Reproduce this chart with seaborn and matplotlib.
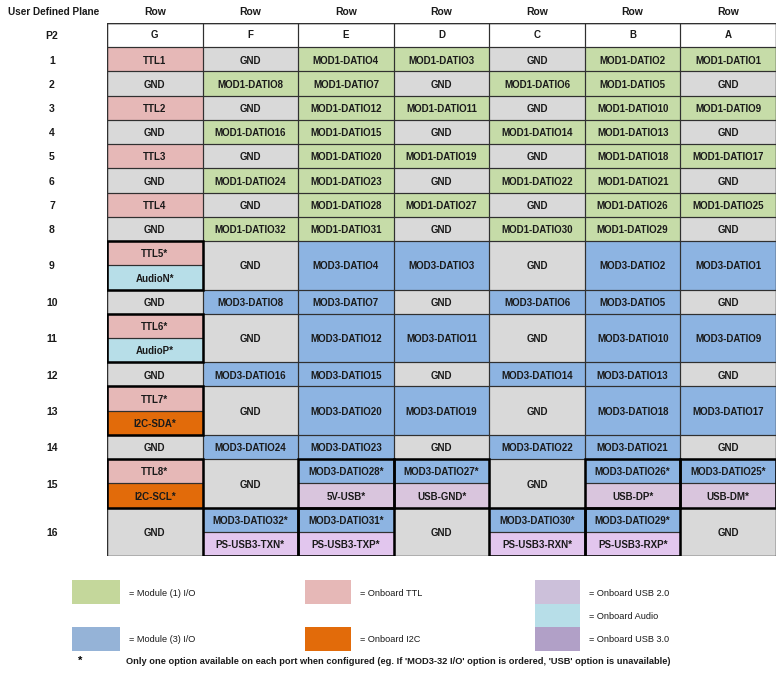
import numpy as np
import pandas as pd
import seaborn as sns
import matplotlib
matplotlib.use("Agg")
import matplotlib.pyplot as plt
from matplotlib.colors import ListedColormap
from matplotlib.patches import Rectangle

# Columns of the connector and P2 pin rows
columns = ["G", "F", "E", "D", "C", "B", "A"]
pins = [str(i) for i in range(1, 17)]
# how many text lines high each pin row is (2 = split / tall row)
row_spans = [1, 1, 1, 1, 1, 1, 1, 1, 2, 1, 2, 1, 2, 1, 2, 2]

# cell labels, a tuple means two options share the port (top, bottom)
cells = [
    ["TTL1", "GND", "MOD1-DATIO4", "MOD1-DATIO3", "GND", "MOD1-DATIO2", "MOD1-DATIO1"],
    ["GND", "MOD1-DATIO8", "MOD1-DATIO7", "GND", "MOD1-DATIO6", "MOD1-DATIO5", "GND"],
    ["TTL2", "GND", "MOD1-DATIO12", "MOD1-DATIO11", "GND", "MOD1-DATIO10", "MOD1-DATIO9"],
    ["GND", "MOD1-DATIO16", "MOD1-DATIO15", "GND", "MOD1-DATIO14", "MOD1-DATIO13", "GND"],
    ["TTL3", "GND", "MOD1-DATIO20", "MOD1-DATIO19", "GND", "MOD1-DATIO18", "MOD1-DATIO17"],
    ["GND", "MOD1-DATIO24", "MOD1-DATIO23", "GND", "MOD1-DATIO22", "MOD1-DATIO21", "GND"],
    ["TTL4", "GND", "MOD1-DATIO28", "MOD1-DATIO27", "GND", "MOD1-DATIO26", "MOD1-DATIO25"],
    ["GND", "MOD1-DATIO32", "MOD1-DATIO31", "GND", "MOD1-DATIO30", "MOD1-DATIO29", "GND"],
    [("TTL5*", "AudioN*"), "GND", "MOD3-DATIO4", "MOD3-DATIO3", "GND", "MOD3-DATIO2", "MOD3-DATIO1"],
    ["GND", "MOD3-DATIO8", "MOD3-DATIO7", "GND", "MOD3-DATIO6", "MOD3-DATIO5", "GND"],
    [("TTL6*", "AudioP*"), "GND", "MOD3-DATIO12", "MOD3-DATIO11", "GND", "MOD3-DATIO10", "MOD3-DATIO9"],
    ["GND", "MOD3-DATIO16", "MOD3-DATIO15", "GND", "MOD3-DATIO14", "MOD3-DATIO13", "GND"],
    [("TTL7*", "I2C-SDA*"), "GND", "MOD3-DATIO20", "MOD3-DATIO19", "GND", "MOD3-DATIO18", "MOD3-DATIO17"],
    ["GND", "MOD3-DATIO24", "MOD3-DATIO23", "GND", "MOD3-DATIO22", "MOD3-DATIO21", "GND"],
    [("TTL8*", "I2C-SCL*"), "GND", ("MOD3-DATIO28*", "5V-USB*"), ("MOD3-DATIO27*", "USB-GND*"),
     "GND", ("MOD3-DATIO26*", "USB-DP*"), ("MOD3-DATIO25*", "USB-DM*")],
    ["GND", ("MOD3-DATIO32*", "PS-USB3-TXN*"), ("MOD3-DATIO31*", "PS-USB3-TXP*"), "GND",
     ("MOD3-DATIO30*", "PS-USB3-RXN*"), ("MOD3-DATIO29*", "PS-USB3-RXP*"), "GND"],
]

categories = ["header", "gnd", "mod1", "mod3", "ttl", "audio", "i2c", "usb2", "usb3"]
cell_colors = ["#FFFFFF", "#D9D9D9", "#C6DCA8", "#8DB4E2", "#E6B8B7",
               "#B7DEE8", "#E26B0A", "#D9C5DD", "#E2C6EE"]
legend_colors = {"mod1": "#C4D79B", "mod3": "#95B3D7", "ttl": "#E6B8B7", "i2c": "#E26B0A",
                 "usb2": "#CCC0DA", "audio": "#B7DEE8", "usb3": "#B1A0C7"}
legend_text = {"mod1": "= Module (1) I/O", "mod3": "= Module (3) I/O", "ttl": "= Onboard TTL",
               "i2c": "= Onboard I2C", "usb2": "= Onboard USB 2.0", "audio": "= Onboard Audio",
               "usb3": "= Onboard USB 3.0"}
footnote = ("Only one option available on each port when configured "
            "(eg. If 'MOD3-32 I/O' option is ordered, 'USB' option is unavailable)")


def category(label):
    if label == "GND":
        return "gnd"
    if label.startswith("MOD1"):
        return "mod1"
    if label.startswith("MOD3"):
        return "mod3"
    if label.startswith("TTL"):
        return "ttl"
    if label.startswith("Audio"):
        return "audio"
    if label.startswith("I2C"):
        return "i2c"
    if label.startswith("PS-USB3"):
        return "usb3"
    return "usb2"


# build the unit grid (header line + one line per text unit)
n_units = 1 + sum(row_spans)
grid = np.zeros((n_units, len(columns)), dtype=int)
starts = []
u = 1
for r, span in enumerate(row_spans):
    starts.append(u)
    for c, lab in enumerate(cells[r]):
        if isinstance(lab, tuple):
            grid[u, c] = categories.index(category(lab[0]))
            grid[u + 1, c] = categories.index(category(lab[1]))
        else:
            grid[u:u + span, c] = categories.index(category(lab))
    u += span

df = pd.DataFrame(grid, columns=columns)

plt.rcParams["font.family"] = "Liberation Sans"
W, H = 783, 673
fig = plt.figure(figsize=(W / 100, H / 100), dpi=100)
ax = fig.add_axes([107 / W, (H - 556) / H, 669 / W, 533 / H])

sns.heatmap(df, cmap=ListedColormap(cell_colors), vmin=-0.5, vmax=len(cell_colors) - 0.5,
            cbar=False, linewidths=0, ax=ax)

txt = dict(ha="center", va="center", fontsize=7, fontweight="bold", color="#1a1a1a")
thin = dict(fill=False, edgecolor="#303030", linewidth=0.8)

# header cells
for c, col in enumerate(columns):
    ax.add_patch(Rectangle((c, 0), 1, 1, **thin))
    ax.text(c + 0.5, 0.5, col, **txt)

for r, span in enumerate(row_spans):
    y0 = starts[r]
    for c, lab in enumerate(cells[r]):
        if isinstance(lab, tuple):
            ax.add_patch(Rectangle((c, y0), 1, 1, **thin))
            ax.add_patch(Rectangle((c, y0 + 1), 1, 1, **thin))
            ax.add_patch(Rectangle((c, y0), 1, 2, fill=False, edgecolor="black",
                                   linewidth=1.8, zorder=5))
            ax.text(c + 0.5, y0 + 0.55, lab[0], **txt)
            ax.text(c + 0.5, y0 + 1.55, lab[1], **txt)
        else:
            ax.add_patch(Rectangle((c, y0), 1, span, **thin))
            ax.text(c + 0.5, y0 + span / 2 + 0.05, lab, **txt)

ax.add_patch(Rectangle((0, 0), len(columns), n_units, fill=False,
                       edgecolor="#303030", linewidth=1.0, zorder=4))
ax.plot([0, len(columns)], [0, 0], color="#303030", lw=1.6, zorder=4)

# top labels ("Row") and pin numbers on the left
ax.xaxis.tick_top()
ax.set_xticks(np.arange(len(columns)) + 0.5)
ax.set_xticklabels(["Row"] * len(columns), fontsize=7.5, fontweight="bold", color="#1a1a1a")
ax.tick_params(axis="x", length=0, pad=4)
ax.set_yticks([0.55] + [s + sp / 2 + 0.05 for s, sp in zip(starts, row_spans)])
ax.set_yticklabels(["P2"] + pins, fontsize=7.5, fontweight="bold", color="#1a1a1a", rotation=0)
ax.tick_params(axis="y", length=0, pad=39.6)
for t in ax.get_yticklabels():
    t.set_horizontalalignment("center")
    t.set_verticalalignment("center")
ax.set_xlabel("")
ax.set_ylabel("")

# overlay in pixel coordinates for title and legend
lg = fig.add_axes([0, 0, 1, 1], facecolor="none")
lg.set_xlim(0, W)
lg.set_ylim(H, 0)
lg.axis("off")
lg.text(54, 12, "User Defined Plane", ha="center", va="center", fontsize=7.2,
        fontweight="bold", color="#1a1a1a")

legend_layout = [("mod1", 72, 580, 48), ("ttl", 305, 580, 46), ("usb2", 535, 580, 45),
                 ("audio", 535, 603.5, 45), ("usb3", 535, 627, 45),
                 ("mod3", 72, 627, 48), ("i2c", 305, 627, 46)]
for key, x, y, w in legend_layout:
    lg.add_patch(Rectangle((x, y), w, 23.5, facecolor=legend_colors[key], edgecolor="none"))
    lg.text(x + w + 9, y + 13, legend_text[key], ha="left", va="center", fontsize=6.6,
            color="#1a1a1a")

lg.text(80, 661, "*", ha="center", va="center", fontsize=8, fontweight="bold")
lg.text(126, 662, footnote, ha="left", va="center", fontsize=6.7, fontweight="bold",
        color="#1a1a1a")

fig.savefig("out.png", dpi=100)
